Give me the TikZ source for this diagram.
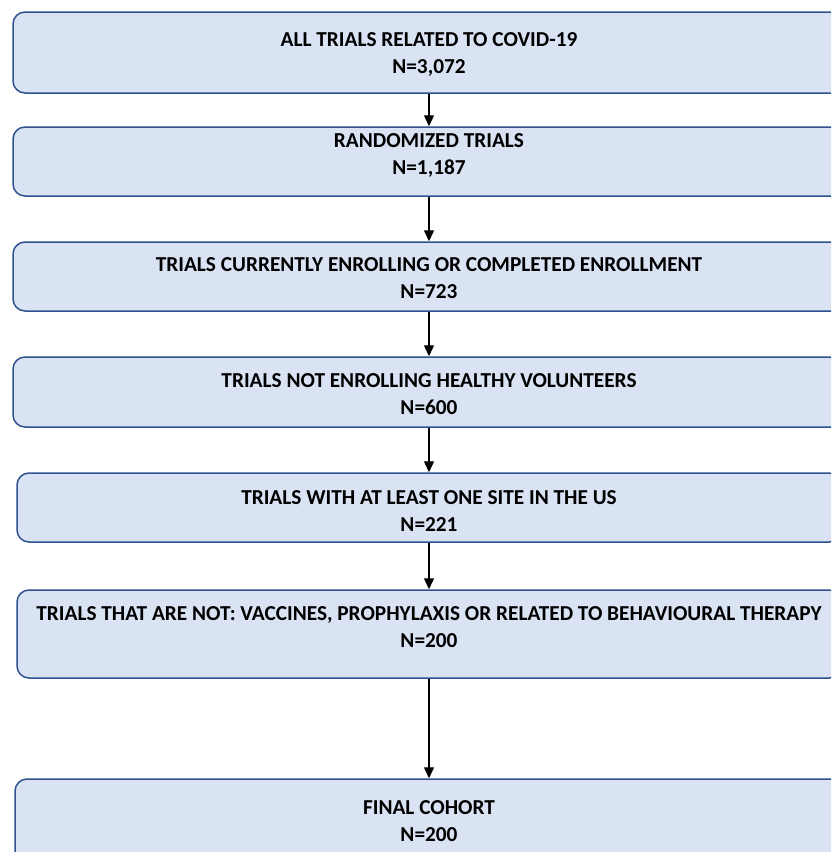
\documentclass[tikz,border=0pt]{standalone}
\usepackage{fontspec}
\setmainfont{Carlito}
\usetikzlibrary{arrows.meta}
\usetikzlibrary{positioning}
\definecolor{boxfill}{HTML}{DAE3F3}
\definecolor{boxline}{HTML}{2F528F}
\tikzset{
    stage/.style={
      rectangle, rounded corners=12pt,
           draw=boxline, line width=1.5pt,
           fill=boxfill,
           inner sep=0pt,
           minimum width=832pt,
           },
}
\tikzset{
    stagetext/.style={
      align=center,
           inner sep=0pt,
           font=\fontsize{21.3}{27}\selectfont\bfseries,
           },
}
\tikzset{
    flow/.style={
      ->, >={Triangle[length=11pt,width=10pt]},
           line width=1.4pt, draw=black,
           },
}

\begin{document}
\begin{tikzpicture}[x=1pt,y=-1pt]

\useasboundingbox (0,0) rectangle (831,852);
\clip (0,0) rectangle (831,852);

%boxes
\node[stage,minimum height=81pt](all) at (429,52.5){};
\node[stage,minimum height=69pt](rnd) at (429,161.5){};
\node[stage,minimum height=69pt](enr) at (429,276.5){};
\node[stage,minimum height=70pt](hvo) at (429,392){};
\node[stage,minimum height=69pt,minimum width=824pt](usa) at (429,507.5){};
\node[stage,minimum height=88pt,minimum width=824pt](nvp) at (429,634){};
\node[stage,minimum height=88pt,minimum width=828pt](fin) at (429,823){};

%texts
\node[stagetext](allt) at (429,54.5){ALL TRIALS RELATED TO COVID-19\\N=3,072};
\node[stagetext](rndt) at (429,155.5){RANDOMIZED TRIALS\\N=1,187};
\node[stagetext](enrt) at (429,278.5){TRIALS CURRENTLY ENROLLING OR COMPLETED ENROLLMENT\\N=723};
\node[stagetext](hvot) at (429,394.5){TRIALS NOT ENROLLING HEALTHY VOLUNTEERS\\N=600};
\node[stagetext](usat) at (429,511){TRIALS WITH AT LEAST ONE SITE IN THE US\\N=221};
\node[stagetext](nvpt) at (429,627.5){TRIALS THAT ARE NOT: VACCINES, PROPHYLAXIS OR RELATED TO BEHAVIOURAL THERAPY\\N=200};
\node[stagetext](fint) at (429,821.5){FINAL COHORT\\N=200};

%arrows
\draw[flow] (all.south) -- (rnd.north);
\draw[flow] (rnd.south) -- (enr.north);
\draw[flow] (enr.south) -- (hvo.north);
\draw[flow] (hvo.south) -- (usa.north);
\draw[flow] (usa.south) -- (nvp.north);
\draw[flow] (nvp.south) -- (fin.north);

\end{tikzpicture}
\end{document}
